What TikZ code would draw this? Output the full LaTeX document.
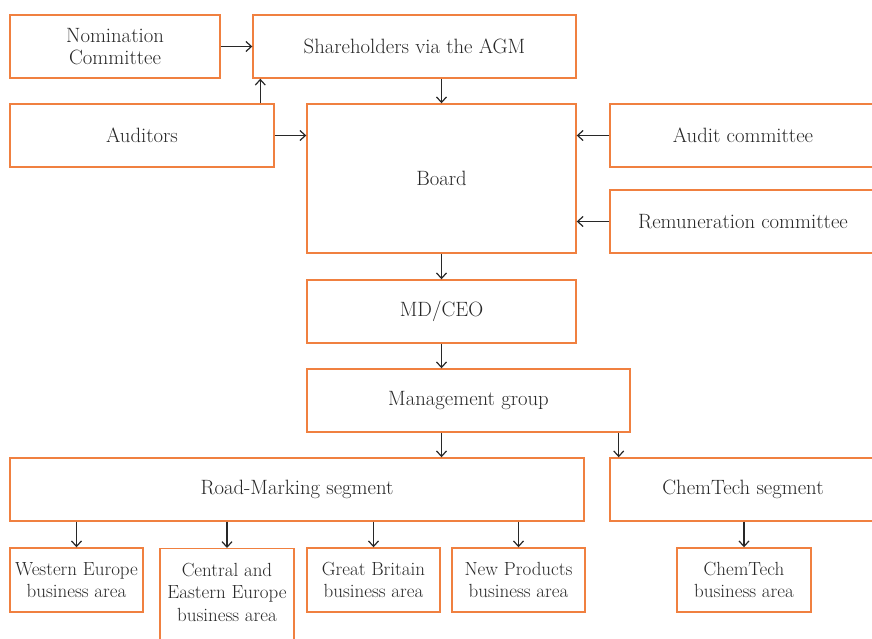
\documentclass[tikz,border=0pt]{standalone}
\usetikzlibrary{arrows.meta}
\definecolor{boxorange}{RGB}{240,128,64}
\definecolor{txtgray}{RGB}{40,40,40}
\begin{document}
\begin{tikzpicture}[x=1pt,y=-1pt,
  box/.style={draw=boxorange, line width=1.4pt, fill=white, text=txtgray, align=center,
    inner sep=0pt, font=\fontsize{20.7}{22.5}\selectfont},
  small/.style={font=\fontsize{19}{22.5}\selectfont},
  arr/.style={draw=txtgray, line width=1.1pt, -{Straight Barb[length=5.5pt,width=10pt,line width=1.2pt]}}]
\useasboundingbox (0,0) rectangle (872,639);
\clip (0,0) rectangle (872,639);
\node[box, minimum width=210pt, minimum height=63pt] (nom) at (115,46.5) {Nomination\\Committee};
\node[box, minimum width=323pt, minimum height=63pt] (sh) at (414.5,46.5) {Shareholders via the AGM};
\node[box, minimum width=264pt, minimum height=63pt] (aud) at (142,135.5) {Auditors};
\node[box, minimum width=269pt, minimum height=149pt] (board) at (441.5,178.5) {Board};
\node[box, minimum width=266pt, minimum height=63pt] (ac) at (743,135.5) {Audit committee};
\node[box, minimum width=266pt, minimum height=63pt] (rem) at (743,221.5) {Remuneration committee};
\node[box, minimum width=269pt, minimum height=63pt] (md) at (441.5,311.5) {MD/CEO};
\node[box, minimum width=323pt, minimum height=63pt] (mg) at (468.5,400.5) {Management group};
\node[box, minimum width=574pt, minimum height=63pt] (rm) at (297,489.5) {Road-Marking segment};
\node[box, minimum width=266pt, minimum height=63pt] (cs) at (743,489.5) {ChemTech segment};
\node[box, small, minimum width=133pt, minimum height=64pt] (we) at (76.5,580) {Western Europe\\business area};
\node[box, minimum width=134pt, minimum height=97pt, anchor=north] (ce) at (227,548) {};
\node[text=txtgray, align=center, small] (cet) at (227,592) {Central and\\Eastern Europe\\business area};
\node[box, small, minimum width=133pt, minimum height=64pt] (gb) at (373.5,580) {Great Britain\\business area};
\node[box, small, minimum width=133pt, minimum height=64pt] (np) at (518.5,580) {New Products\\business area};
\node[box, small, minimum width=134pt, minimum height=64pt] (cb) at (744,580) {ChemTech\\business area};

\draw[arr] (nom.east) -- (sh.west);
\draw[arr] ([xshift=8pt]sh.south west |- aud.north) -- ([xshift=8pt]sh.south west);
\draw[arr] (aud.east) -- (board.west |- aud.east);
\draw[arr] (board.north |- sh.south) -- (board.north);
\draw[arr] (ac.west) -- (board.east |- ac.west);
\draw[arr] (rem.west) -- (board.east |- rem.west);
\draw[arr] (board.south) -- (md.north);
\draw[arr] (md.south) -- (md.south |- mg.north);
\draw[arr] (mg.south -| md.south) -- (rm.north -| md.south);
\draw[arr] ([xshift=-12pt]mg.south east) -- ([xshift=-12pt]mg.south east |- cs.north);
\draw[arr] (we.north |- rm.south) -- (we.north);
\draw[arr] (ce.north |- rm.south) -- (ce.north);
\draw[arr] (gb.north |- rm.south) -- (gb.north);
\draw[arr] (np.north |- rm.south) -- (np.north);
\draw[arr] (cb.north |- cs.south) -- (cb.north);
\end{tikzpicture}
\end{document}
